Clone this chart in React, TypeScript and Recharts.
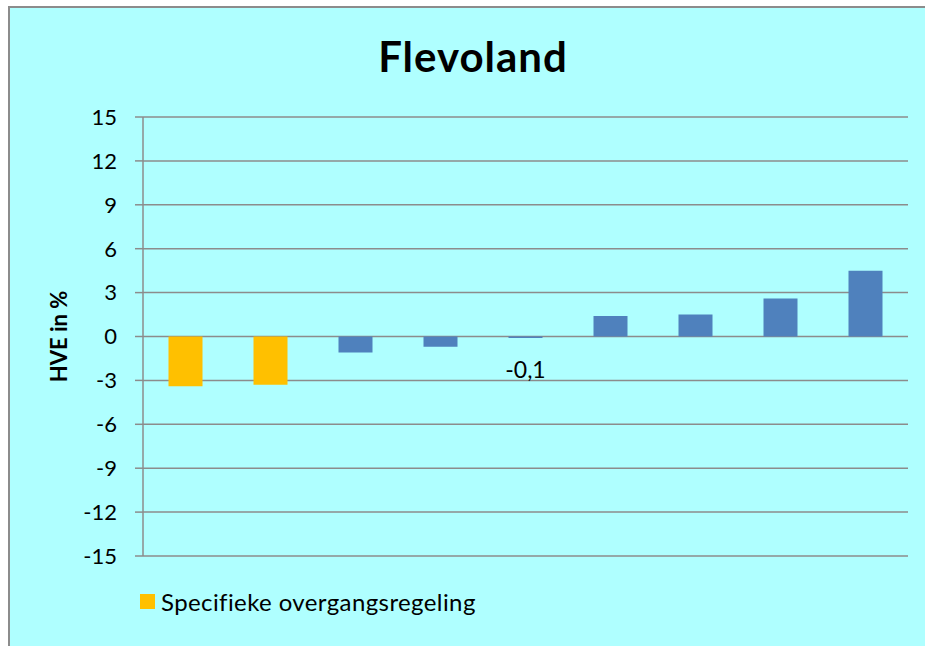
import React from 'react';
import { BarChart, Bar, XAxis, YAxis, CartesianGrid, Legend, LabelList } from 'recharts';

const categories = ['1', '2', '3', '4', '5', '6', '7', '8', '9'];
const specifiekeValues = [-3.4, -3.3, null, null, null, null, null, null, null];
const overigeValues = [null, null, -1.1, -0.7, -0.1, 1.4, 1.5, 2.6, 4.5];
const barLabels = [null, null, null, null, '-0,1', null, null, null, null];
const yTicks = [-15, -12, -9, -6, -3, 0, 3, 6, 9, 12, 15];

const data = categories.map((c, i) => ({
  cat: c,
  spec: specifiekeValues[i],
  other: overigeValues[i],
  label: barLabels[i],
}));

const FONT = 'Lato, "Open Sans", sans-serif';
const GRID = '#8c8c8c';

const renderLabel = (props: any) => {
  const { x, y, width, height, value } = props;
  if (value == null || value === '') return null;
  const bottom = Math.max(Number(y), Number(y) + Number(height));
  return (
    <text x={Number(x) + Number(width) / 2} y={bottom + 40} textAnchor="middle" fontSize={23} fontFamily={FONT} fill="#000">
      {value}
    </text>
  );
};

const renderLegend = (props: any) => {
  const items = (props.payload || []).filter((p: any) => p.type !== 'none');
  return (
    <div style={{ position: 'relative', height: 0, overflow: 'visible' }}>
      <div
        style={{
          position: 'absolute',
          left: 0,
          top: 0,
          display: 'flex',
          alignItems: 'center',
          whiteSpace: 'nowrap',
          fontFamily: FONT,
          fontSize: 24,
          letterSpacing: 0.4,
          color: '#000',
        }}
      >
        {items.map((p: any) => (
          <div key={p.value} style={{ display: 'flex', alignItems: 'center' }}>
            <span style={{ display: 'inline-block', width: 15, height: 15, background: p.color, marginRight: 6 }} />
            <span>{p.value}</span>
          </div>
        ))}
      </div>
    </div>
  );
};

export default function App() {
  return (
    <div style={{ position: 'fixed', left: 0, top: 0, width: 925, height: 646, overflow: 'hidden', background: '#fff' }}>
      <div
        style={{
          position: 'absolute',
          left: 8,
          top: 6,
          width: 930,
          height: 660,
          borderLeft: '2px solid #8c8c8c',
          borderTop: '2px solid #8c8c8c',
          background: '#AFFFFF',
          fontFamily: FONT,
        }}
      >
        <div
          style={{
            position: 'absolute',
            left: 0,
            width: 926,
            top: 23,
            textAlign: 'center',
            fontSize: 42,
            letterSpacing: 1,
            lineHeight: 1.2,
            fontWeight: 'bold',
            color: '#000',
            fontFamily: FONT,
          }}
        >
          Flevoland
        </div>
        <BarChart
          width={915}
          height={640}
          data={data}
          margin={{ top: 109, right: 17, bottom: 92, left: 33 }}
          barCategoryGap="30%"
        >
          <CartesianGrid vertical={false} stroke={GRID} strokeWidth={1.5} />
          <XAxis dataKey="cat" hide />
          <YAxis
            domain={[-15, 15]}
            ticks={yTicks}
            interval={0}
            width={100}
            axisLine={{ stroke: GRID, strokeWidth: 1.5 }}
            tickLine={{ stroke: GRID, strokeWidth: 1.5 }}
            tickSize={8}
            tickMargin={18}
            tick={{ fontSize: 22, fill: '#000', fontFamily: FONT }}
            label={{
              value: 'HVE in %',
              angle: -90,
              position: 'insideLeft',
              offset: 16,
              style: { fontSize: 22, fontWeight: 'bold', fill: '#000', fontFamily: FONT, textAnchor: 'middle' },
            }}
          />
          <Bar dataKey="spec" name="Specifieke overgangsregeling" stackId="a" fill="#FFC000" isAnimationActive={false} />
          <Bar dataKey="other" name="Overig" stackId="a" fill="#4F81BD" legendType="none" isAnimationActive={false}>
            <LabelList dataKey="label" content={renderLabel} />
          </Bar>
          <Legend
            content={renderLegend}
            wrapperStyle={{ position: 'absolute', left: 130, top: 579, width: 'auto', height: 0 }}
          />
        </BarChart>
      </div>
    </div>
  );
}
